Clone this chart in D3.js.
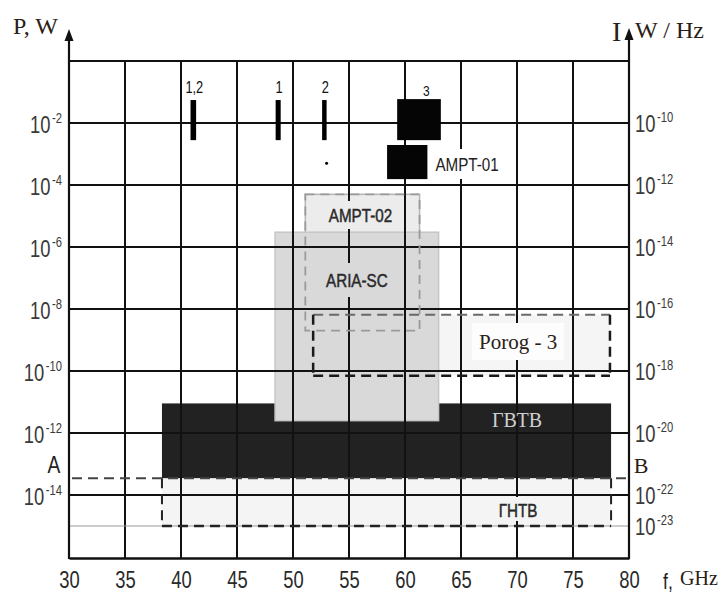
<!DOCTYPE html>
<html><head><meta charset="utf-8">
<script src="https://cdn.jsdelivr.net/npm/d3@7"></script>
<style>
html,body{margin:0;padding:0;background:#fff;}
svg{display:block;}
.nar{font-family:"Liberation Sans",Arial,sans-serif;}
.ser{font-family:"Liberation Serif","Times New Roman",serif;}
</style>
</head><body>
<svg id="c" width="723" height="593"></svg>
<script>
// ---------- data ----------
const freqTicks = [30,35,40,45,50,55,60,65,70,75,80];           // GHz
const powerExps = [0,-2,-4,-6,-8,-10,-12,-14];                    // grid lines, P (W) = 10^e
const powerLabelExps = [-2,-4,-6,-8,-10,-12,-14];
const densityLabelExps = [-10,-12,-14,-16,-18,-20,-22,-23];       // I, W/Hz

// regions (GHz, W)
const regionNames = ["Porog - 3","ГНТВ","ГВТВ","AMPT-02","ARIA-SC"];
const regionFmin  = [51.8, 38.3, 38.3, 51.1, 48.4];
const regionFmax  = [78.3, 78.4, 78.4, 61.3, 63.0];
const regionPmax  = [6.5e-9, 3.5e-14, 9e-12, 5e-5, 3e-6];
const regionPmin  = [7e-11, 1e-15, 3.5e-14, 2e-9, 2.5e-12];

// narrow emission lines
const lineNames = ["1,2","1","2"];
const lineFmin  = [40.85, 48.45, 52.6];
const lineFmax  = [41.35, 48.9, 53.0];
const linePmax  = [5.5e-2, 5.5e-2, 5.5e-2];
const linePmin  = [2.8e-3, 2.8e-3, 2.8e-3];

// wide blocks
const blockNames = ["3","AMPT-01"];
const blockFmin  = [59.3, 58.4];
const blockFmax  = [63.2, 62.0];
const blockPmax  = [5.9e-2, 1.95e-3];
const blockPmin  = [2.8e-3, 1.55e-4];

const dotF = [53.0], dotP = [5e-4];
const levelAB = 3.5e-14;     // A-B line
const level23 = 1e-23;       // thin line (right axis)

// ---------- scales ----------
const svg = d3.select("#c");
const x = d3.scaleLinear().domain([30,80]).range([69,629]);
const y = d3.scaleLog().domain([1,1e-16]).range([61,557]);
const yR = d3.scaleLog().domain([1e-8,1e-24]).range([61,557]);
const NX = 0.8; // horizontal condensing for narrow sans

function ntext(px,py,anchor,size,fill,str,weight){
  const gg = svg.append("g").attr("transform",`translate(${px},${py}) scale(${NX},1)`);
  const t = gg.append("text").attr("class","nar").attr("text-anchor",anchor).attr("font-size",size).attr("fill",fill);
  if(weight) t.attr("font-weight",weight);
  if(str!==undefined) t.text(str);
  return t;
}

const regionFill = ["#f5f5f5","#f4f4f4","#222222","#ececec","#d9d9d9"];
const R = regionNames.map((n,i)=>({n,i,x0:x(regionFmin[i]),x1:x(regionFmax[i]),y0:y(regionPmax[i]),y1:y(regionPmin[i])}));

[0,1,2,3,4].forEach(i=>{
  const r=R[i];
  svg.append("rect").attr("x",r.x0).attr("y",r.y0).attr("width",r.x1-r.x0).attr("height",r.y1-r.y0)
    .attr("fill",regionFill[i])
    .attr("stroke", i===3?"#b5b5b5":(i===4?"#c6c6c6":"none")).attr("stroke-width",1.5);
});

// grid
const g = svg.append("g");
powerExps.forEach(e=>{
  g.append("line").attr("x1",x(30)).attr("x2",x(80)).attr("y1",y(Math.pow(10,e))).attr("y2",y(Math.pow(10,e)))
   .attr("stroke","#111").attr("stroke-width",2);
});
freqTicks.forEach(f=>{
  g.append("line").attr("x1",x(f)).attr("x2",x(f)).attr("y1",y(1)).attr("y2",y(1e-16)+1)
   .attr("stroke","#111").attr("stroke-width",2);
});
g.append("line").attr("x1",x(30)).attr("x2",x(80)).attr("y1",yR(level23)).attr("y2",yR(level23))
 .attr("stroke","#9a9a9a").attr("stroke-width",1);
// bottom axis
const xAxis = d3.axisBottom(x).tickValues(freqTicks).tickSize(0).tickPadding(14);
const ax = svg.append("g").attr("transform",`translate(0,${y(1e-16)+1})`).call(xAxis);
ax.select(".domain").attr("stroke","#111").attr("stroke-width",2.5);
ax.selectAll("text").attr("class","nar").attr("font-size",23).attr("fill","#2a2a2a").attr("font-family",null)
  .attr("transform",`scale(${NX},1)`);

// axes verticals with arrows
[[x(30),29],[x(80),28]].forEach(([xx,tip])=>{
  svg.append("line").attr("x1",xx).attr("x2",xx).attr("y1",y(1e-16)+2).attr("y2",tip+8).attr("stroke","#111").attr("stroke-width",2.2);
  svg.append("path").attr("d",`M${xx},${tip} L${xx-4.5},${tip+12} L${xx+4.5},${tip+12} Z`).attr("fill","#111");
});

function bg(cx,cy,w,h,fill){svg.append("rect").attr("x",cx-w/2).attr("y",cy-h/2).attr("width",w).attr("height",h).attr("fill",fill);}
const ampt02 = R[3], aria = R[4], porog = R[0], gvtv = R[2], gntv = R[1];
bg((ampt02.x0+ampt02.x1)/2, 215, 76, 28, "#ececec");
bg((aria.x0+aria.x1)/2, 280, 74, 34, "#d9d9d9");
bg(x(70.1), 341.5, 92, 37, "#fdfdfd");
bg(x(70.1), 509, 48, 24, "#f4f4f4");

// dashed outlines
svg.append("rect").attr("x",ampt02.x0).attr("y",ampt02.y0).attr("width",ampt02.x1-ampt02.x0).attr("height",ampt02.y1-ampt02.y0)
  .attr("fill","none").attr("stroke","#9a9a9a").attr("stroke-width",1.8).attr("stroke-dasharray","9,6");
const pd = (x1,y1,x2,y2,c,w)=>svg.append("line").attr("x1",x1).attr("y1",y1).attr("x2",x2).attr("y2",y2)
  .attr("stroke",c).attr("stroke-width",w).attr("stroke-dasharray","10,6");
pd(porog.x0,porog.y0,porog.x1,porog.y0,"#6a6a6a",2);
pd(porog.x0,porog.y0,porog.x0,porog.y1,"#1a1a1a",2.5);
pd(porog.x0,porog.y1,porog.x1,porog.y1,"#1a1a1a",2.5);
pd(porog.x1,porog.y0,porog.x1,porog.y1,"#1a1a1a",2.5);
pd(gntv.x0,gntv.y0,gntv.x0,gntv.y1,"#222",2);
pd(gntv.x0,gntv.y1,gntv.x1,gntv.y1,"#222",2.5);
pd(gntv.x1,gntv.y0,gntv.x1,gntv.y1,"#222",2);
pd(x(30)+3,y(levelAB),x(80),y(levelAB),"#444",2);

// narrow lines
lineNames.forEach((n,i)=>{
  svg.append("rect").attr("x",x(lineFmin[i])).attr("y",y(linePmax[i])).attr("width",x(lineFmax[i])-x(lineFmin[i]))
    .attr("height",y(linePmin[i])-y(linePmax[i])).attr("fill","#000");
  ntext((x(lineFmin[i])+x(lineFmax[i]))/2+1, 93, "middle", 16, "#111", n);
});
blockNames.forEach((n,i)=>{
  svg.append("rect").attr("x",x(blockFmin[i])).attr("y",y(blockPmax[i])).attr("width",x(blockFmax[i])-x(blockFmin[i]))
    .attr("height",y(blockPmin[i])-y(blockPmax[i])).attr("fill","#050505");
});
bg(x(61.9),90,14,14,"#fff");
ntext(x(61.9),96,"middle",15,"#111",blockNames[0]);
bg(x(62.0)+38,164,70,30,"#fff");
ntext(x(62.0)+8,171,"start",19,"#222",blockNames[1]);
svg.append("circle").attr("cx",x(dotF[0])).attr("cy",y(dotP[0])).attr("r",1.5).attr("fill","#000");

// region labels
ntext((ampt02.x0+ampt02.x1)/2-2,222,"middle",19,"#2a2a2a",regionNames[3]).attr("stroke","#2a2a2a").attr("stroke-width",0.5);
ntext((aria.x0+aria.x1)/2,287,"middle",19,"#2a2a2a",regionNames[4]).attr("stroke","#2a2a2a").attr("stroke-width",0.5);
svg.append("text").attr("class","ser").attr("x",x(70.1)).attr("y",349).attr("text-anchor","middle")
  .attr("font-size",21).attr("fill","#2a2015").text(regionNames[0]);
svg.append("text").attr("class","ser").attr("x",x(70)).attr("y",427).attr("text-anchor","middle")
  .attr("font-size",20).attr("fill","#cfcfcf").text(regionNames[2]);
ntext(x(70.1),517,"middle",19,"#2a2a2a",regionNames[1]).attr("stroke","#2a2a2a").attr("stroke-width",0.5);

// y tick labels
powerLabelExps.forEach(e=>{
  const t = ntext(62, y(Math.pow(10,e))+10, "end", 23, "#3a3a3a");
  t.append("tspan").text("10");
  t.append("tspan").attr("font-size",14).attr("dy",-10).attr("dx",2).text(String(e));
});
densityLabelExps.forEach(e=>{
  const t = ntext(635, yR(Math.pow(10,e))+9, "start", 23, "#3a3a3a");
  t.append("tspan").text("10");
  t.append("tspan").attr("font-size",14).attr("dy",-10).attr("dx",2).text(String(e));
});

// axis titles
svg.append("text").attr("class","ser").attr("x",13).attr("y",34).attr("font-size",24).attr("fill","#2a2015").text("P, W");
svg.append("text").attr("class","ser").attr("x",612).attr("y",41).attr("font-size",28).attr("fill","#2a2015").text("I");
svg.append("text").attr("class","ser").attr("x",635).attr("y",38).attr("font-size",24).attr("fill","#2a2015").text("W / Hz");
ntext(663,589,"start",22,"#222","f,");
svg.append("text").attr("class","ser").attr("x",680).attr("y",585).attr("font-size",20).attr("fill","#2a2015").text("GHz");
ntext(54,473,"middle",24,"#222","A");
svg.append("text").attr("class","ser").attr("x",641).attr("y",473).attr("text-anchor","middle").attr("font-size",22).attr("fill","#2a2015").text("B");
</script>
</body></html>
